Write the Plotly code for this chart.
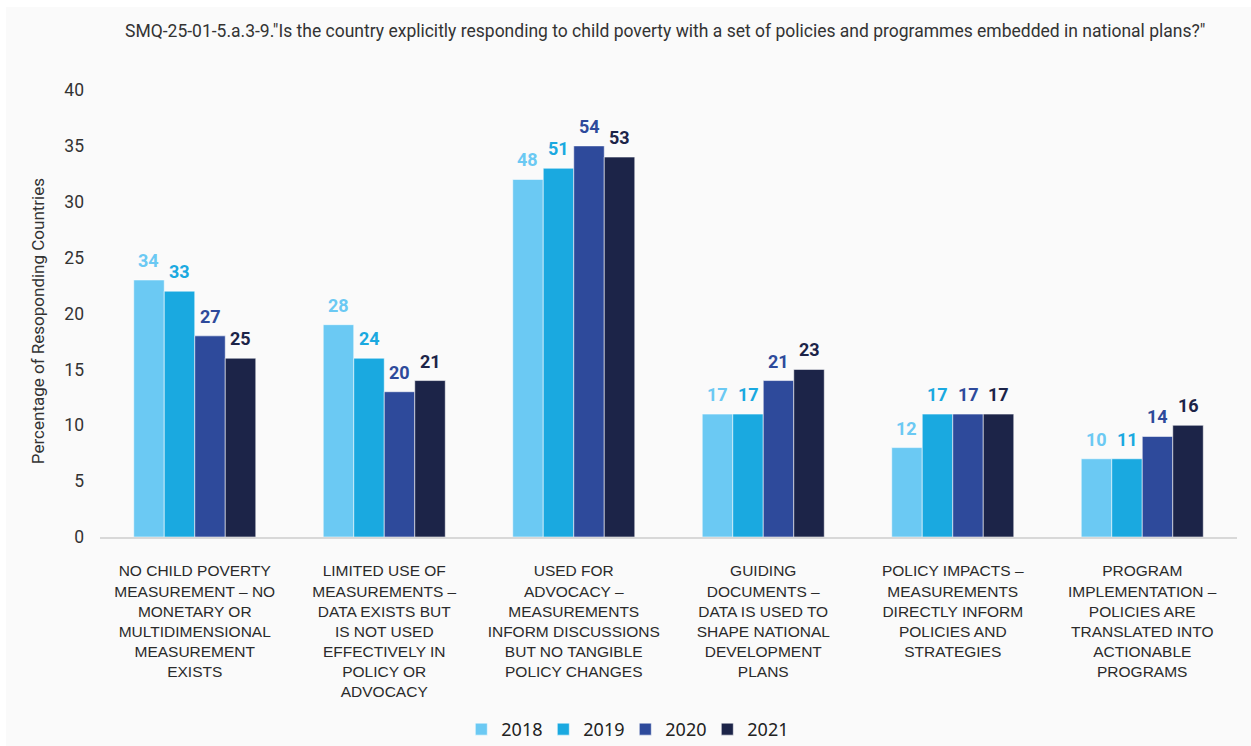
import plotly.graph_objects as go

# Survey question and response categories
question = 'SMQ-25-01-5.a.3-9."Is the country explicitly responding to child poverty with a set of policies and programmes embedded in national plans?"'

categories = [
    "NO CHILD POVERTY<br>MEASUREMENT – NO<br>MONETARY OR<br>MULTIDIMENSIONAL<br>MEASUREMENT<br>EXISTS",
    "LIMITED USE OF<br>MEASUREMENTS –<br>DATA EXISTS BUT<br>IS NOT USED<br>EFFECTIVELY IN<br>POLICY OR<br>ADVOCACY",
    "USED FOR<br>ADVOCACY –<br>MEASUREMENTS<br>INFORM DISCUSSIONS<br>BUT NO TANGIBLE<br>POLICY CHANGES",
    "GUIDING<br>DOCUMENTS –<br>DATA IS USED TO<br>SHAPE NATIONAL<br>DEVELOPMENT<br>PLANS",
    "POLICY IMPACTS –<br>MEASUREMENTS<br>DIRECTLY INFORM<br>POLICIES AND<br>STRATEGIES",
    "PROGRAM<br>IMPLEMENTATION –<br>POLICIES ARE<br>TRANSLATED INTO<br>ACTIONABLE<br>PROGRAMS",
]

years = ["2018", "2019", "2020", "2021"]

# Share of responding countries per category (%), one list per year
pct_2018 = [23, 19, 32, 11, 8, 7]
pct_2019 = [22, 16, 33, 11, 11, 7]
pct_2020 = [18, 13, 35, 14, 11, 9]
pct_2021 = [16, 14, 34, 15, 11, 10]

# Number of countries per category, one list per year
countries_2018 = [34, 28, 48, 17, 12, 10]
countries_2019 = [33, 24, 51, 17, 17, 11]
countries_2020 = [27, 20, 54, 21, 17, 14]
countries_2021 = [25, 21, 53, 23, 17, 16]

y_ticks = [0, 5, 10, 15, 20, 25, 30, 35, 40]

pct = [pct_2018, pct_2019, pct_2020, pct_2021]
counts = [countries_2018, countries_2019, countries_2020, countries_2021]
colors = ["#6BC9F3", "#1AA9E0", "#2E4A9B", "#1C2448"]

BARGAP = 0.356
n_series = len(years)
bar_w = (1 - BARGAP) / n_series

fig = go.Figure()
annotations = []
for s, (year, vals, cnts, col) in enumerate(zip(years, pct, counts, colors)):
    fig.add_trace(go.Bar(
        x=categories,
        y=vals,
        name=year,
        marker=dict(color=col, line=dict(color="rgba(255,255,255,0.55)", width=1)),
        hoverinfo="skip",
    ))
    # country count above each bar
    for i, (v, c) in enumerate(zip(vals, cnts)):
        annotations.append(dict(
            x=i + (s - (n_series - 1) / 2) * bar_w,
            y=v,
            xref="x", yref="y",
            text=f"<b>{c}</b>",
            showarrow=False,
            yanchor="bottom",
            yshift=7,
            font=dict(family="Roboto", size=18, color=col),
        ))

annotations.append(dict(
    text=question, xref="paper", yref="paper", x=0.497, y=1.132,
    xanchor="center", yanchor="middle", showarrow=False,
    font=dict(family="Roboto", size=17.5, color="#333333"),
))
annotations.append(dict(
    text="Percentage of Resoponding Countries", xref="paper", yref="paper",
    x=-0.0545, y=0.483, xanchor="center", yanchor="middle", textangle=-90,
    showarrow=False, font=dict(family="Roboto", size=17, color="#333333"),
))

fig.update_layout(
    width=1251, height=746,
    margin=dict(l=100, r=14, t=90, b=209, pad=0, autoexpand=False),
    barmode="group",
    bargap=BARGAP,
    bargroupgap=0,
    paper_bgcolor="white",
    plot_bgcolor="rgba(0,0,0,0)",
    showlegend=True,
    legend=dict(
        orientation="h", x=0.462, y=-0.4305, xanchor="center", yanchor="middle",
        entrywidth=37, entrywidthmode="pixels",
        font=dict(family="Noto Sans", size=18, color="#222222"),
        bgcolor="rgba(0,0,0,0)", itemclick=False, itemdoubleclick=False,
    ),
    annotations=annotations,
    shapes=[dict(
        type="rect", xref="paper", yref="paper", layer="below",
        x0=-0.0827, x1=1.0123, y0=-0.47, y1=1.1858,
        fillcolor="#FAFAFA", line=dict(width=0),
    )],
    xaxis=dict(
        type="category", automargin=False,
        showline=True, linecolor="#D8D8D8", linewidth=1.5,
        showgrid=False, ticks="", ticklabelstandoff=19,
        tickfont=dict(family="Liberation Sans", size=15.5, color="#2A2A2A"),
    ),
    yaxis=dict(
        range=[0, 40], tickvals=y_ticks, showgrid=False, zeroline=False,
        showline=False, ticks="", ticklabelstandoff=15, automargin=False,
        tickfont=dict(family="Roboto", size=17.5, color="#333333"),
    ),
)

fig.write_html("out.html")
